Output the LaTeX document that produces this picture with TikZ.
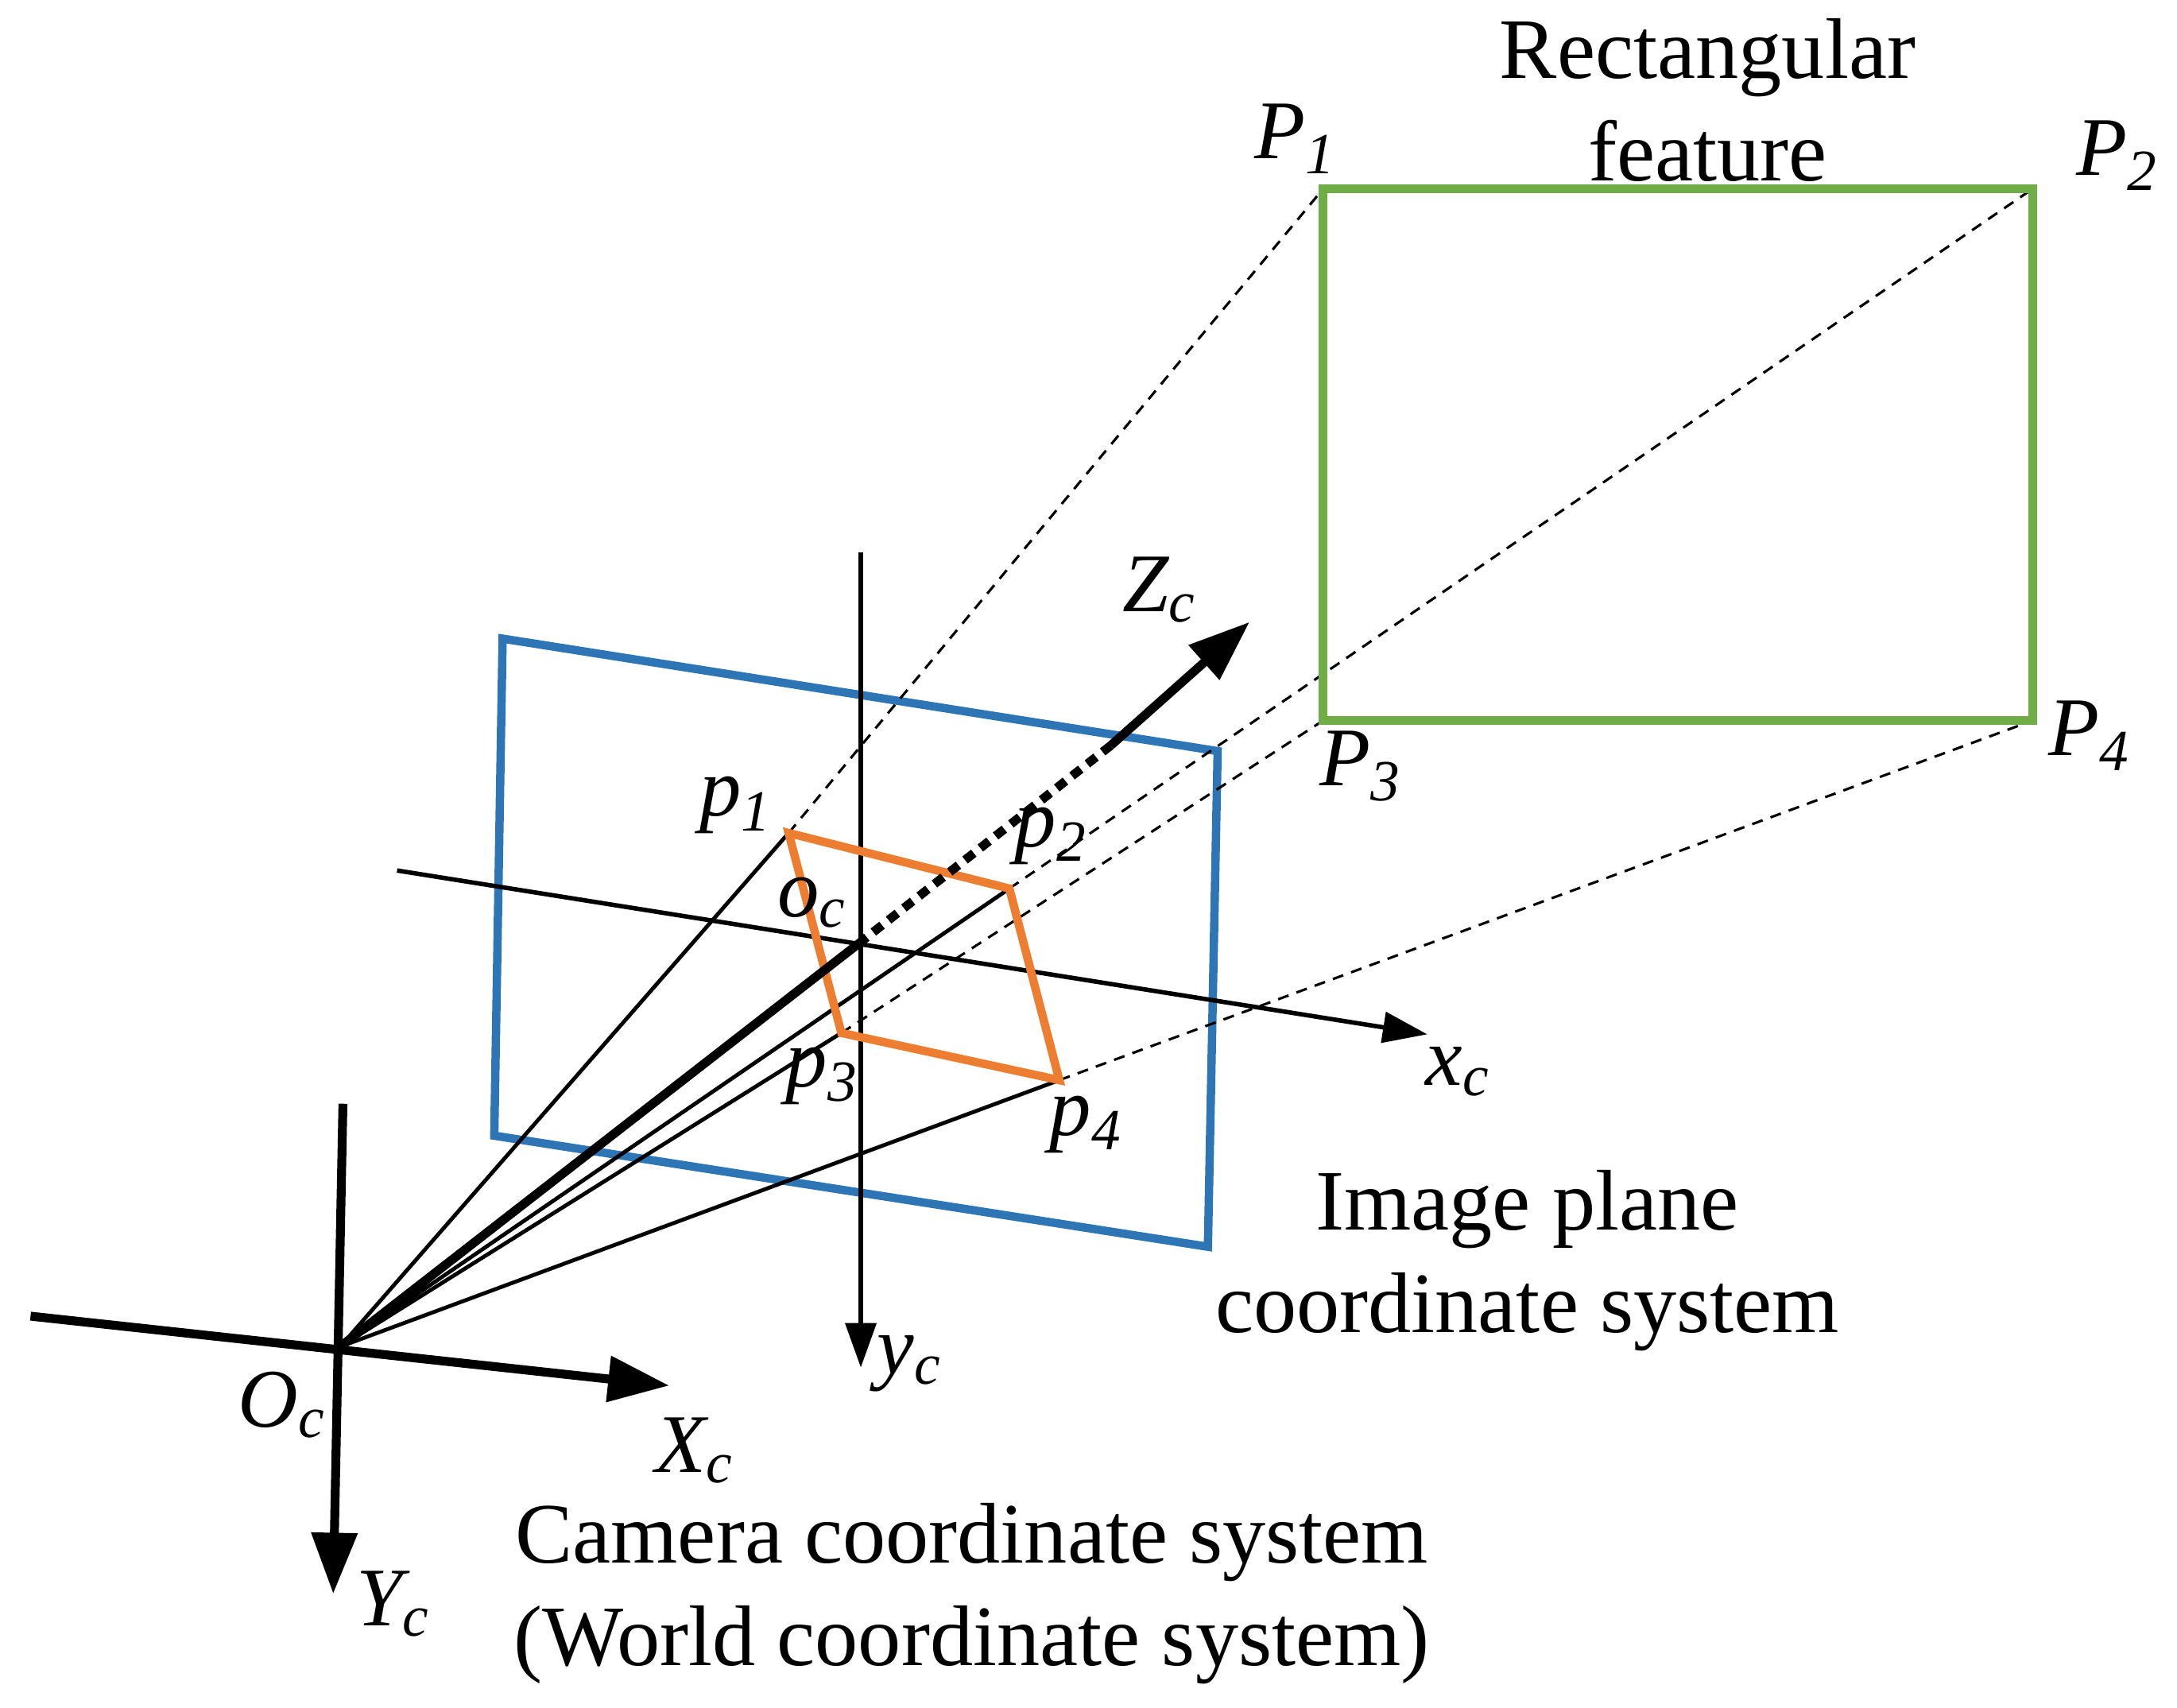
\documentclass[tikz,border=0pt]{standalone}
\usepackage{fontspec}
\setmainfont{Liberation Serif}
\usetikzlibrary{arrows.meta}
\begin{document}
\begin{tikzpicture}[x=0.5pt,y=-0.5pt,
  lbl/.style={font=\fontsize{30}{35}\selectfont\itshape,inner sep=0},
  txt/.style={font=\fontsize{31}{37}\selectfont,align=center,inner sep=0},
  ax/.style={line width=1.6pt,-{Triangle[length=16pt,width=11pt]}},
  bax/.style={line width=3.2pt,-{Triangle[length=22pt,width=16pt]}},
  ray/.style={line width=1.4pt},
  dray/.style={line width=0.9pt,dash pattern=on 4pt off 3pt}]
\useasboundingbox (0,0) rectangle (1568,1230);
\coordinate (Oc) at (245,970);
\coordinate (oc) at (618,680);
\coordinate (p1) at (568,600); \coordinate (p2) at (727,640);
\coordinate (p4) at (763,778); \coordinate (p3) at (606,744);
\coordinate (P1) at (953,136); \coordinate (P2) at (1464,136);
\coordinate (P4) at (1464,519); \coordinate (P3) at (953,519);
\coordinate (zm) at (800,537); \coordinate (zt) at (900,448);
\coordinate (xa) at (286,627); \coordinate (xb) at (1028,745);
\coordinate (ya) at (620,398); \coordinate (yb) at (620,985);
\coordinate (Xa) at (22,948); \coordinate (Xb) at (482,998);
\coordinate (Ya) at (247,795); \coordinate (Yb) at (240,1148);
% image plane
\draw[line width=3pt,color={rgb,255:red,46;green,117;blue,182}] (362,460)--(877,541)--(870,898)--(356,818)--cycle;
\draw[ax] (xa)--(xb);
\draw[ax] (ya)--(yb);
% rays
\foreach \p in {p1,p2,p3,p4} \draw[ray] (Oc)--(\p);
\draw[dray] (p1)--(P1); \draw[dray] (p2)--(P2);
\draw[dray] (p3)--(P3); \draw[dray] (p4)--(P4);
% orange
\draw[line width=3pt,color={rgb,255:red,237;green,125;blue,49}] (p1)--(p2)--(p4)--(p3)--cycle;
% green
\draw[line width=3pt,color={rgb,255:red,112;green,173;blue,71}] (P1)--(P2)--(P4)--(P3)--cycle;
% Zc
\draw[line width=3.2pt] (Oc)--(oc);
\draw[line width=3.2pt,dash pattern=on 4pt off 3pt] (oc)--(zm);
\draw[bax] (zm)--(zt);
% camera axes
\draw[bax] (Xa)--(Xb);
\draw[bax] (Ya)--(Yb);
% labels
\node[lbl] (lP1) at (933,100) {P\textsubscript{1}};
\node[lbl] (lP2) at (1525,112) {P\textsubscript{2}};
\node[lbl] (lP3) at (980,552) {P\textsubscript{3}};
\node[lbl] (lP4) at (1505,530) {P\textsubscript{4}};
\node[lbl] (lp1) at (530,580) {p\textsubscript{1}};
\node[lbl] (lp2) at (757,602) {p\textsubscript{2}};
\node[lbl] (lp3) at (592,775) {p\textsubscript{3}};
\node[lbl] (lp4) at (782,810) {p\textsubscript{4}};
\node[lbl] (loc) at (585,650) {o\textsubscript{c}};
\node[lbl] (lZc) at (835,425) {Z\textsubscript{c}};
\node[lbl] (lxc) at (1050,772) {x\textsubscript{c}};
\node[lbl] (lyc) at (655,982) {y\textsubscript{c}};
\node[lbl] (lXc) at (500,1045) {X\textsubscript{c}};
\node[lbl] (lYc) at (283,1155) {Y\textsubscript{c}};
\node[lbl] (lOc) at (203,1012) {O\textsubscript{c}};
\node[txt] (t1) at (1230,72) {Rectangular\\feature};
\node[txt] (t2) at (1100,908) {Image plane\\coordinate system};
\node[txt] (t3) at (700,1148) {Camera coordinate system\\(World coordinate system)};
\end{tikzpicture}
\end{document}
